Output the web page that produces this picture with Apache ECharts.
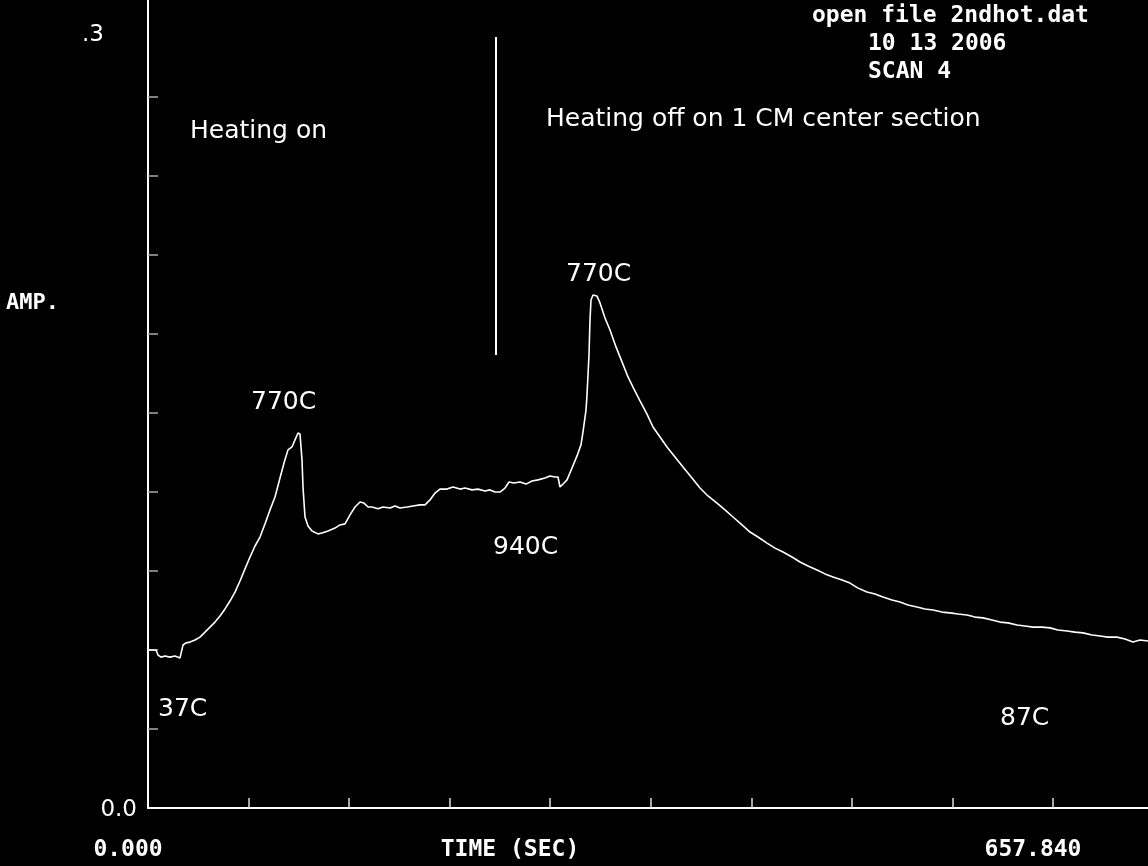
<!DOCTYPE html>
<html>
<head>
<meta charset="utf-8">
<style>
html,body{margin:0;padding:0;background:#000;}
#chart{width:1148px;height:866px;}
</style>
<script src="https://cdn.jsdelivr.net/npm/echarts@6/dist/echarts.min.js"></script>
</head>
<body>
<div id="chart"></div>
<script>
// Time (s) of each reading
const timeSec = [0,5.82,7.27,9.45,12.36,15.99,19.63,23.26,24.71,25.44,27.62,30.53,34.16,37.80,41.43,45.07,48.70,52.34,55.97,59.60,63.24,66.87,70.51,74.14,77.78,81.41,85.05,88.68,92.32,95.95,98.86,101.76,104.67,106.85,109.03,110.49,111.94,112.67,114.12,116.30,119.21,123.57,126.48,130.84,135.93,139.57,143.20,146.84,150.47,154.11,157.01,159.92,162.83,167.19,170.82,175.91,179.54,183.18,188.27,192.63,197.71,201.35,204.98,208.62,212.25,217.34,221.70,226.79,230.42,235.51,239.87,244.96,248.60,252.23,255.87,259.50,262.41,266.04,270.40,274.77,279.13,283.49,288.58,292.21,295.84,298.02,299.48,302.39,304.57,308.20,311.84,314.74,316.20,318.38,319.10,320.56,321.29,322.01,323.47,326.37,328.56,332.19,335.82,340.19,344.55,348.91,353.27,357.63,362.72,367.08,372.17,377.26,383.07,388.89,395.43,401.25,407.06,413.60,419.42,425.23,431.78,437.59,443.40,449.95,455.76,461.58,468.12,473.94,479.75,486.29,492.11,497.93,504.46,510.28,516.09,522.63,528.45,534.26,540.81,546.62,552.44,558.98,564.79,570.61,577.15,582.97,588.78,595.32,601.14,606.95,613.49,619.31,625.13,631.67,637.48,643.30,649.84,655.66,661.47,668.01,673.83,679.64,686.18,692.00,697.81,704.36,710.17,715.99,721.07,726.89];
// Amplitude of each reading
const amplitude = [0.0600,0.0600,0.0581,0.0573,0.0577,0.0573,0.0577,0.0570,0.0573,0.0619,0.0627,0.0630,0.0638,0.0649,0.0668,0.0687,0.0706,0.0729,0.0756,0.0786,0.0820,0.0862,0.0908,0.0953,0.0995,0.1029,0.1079,0.1132,0.1181,0.1253,0.1310,0.1360,0.1371,0.1398,0.1424,0.1420,0.1322,0.1219,0.1105,0.1071,0.1052,0.1041,0.1044,0.1052,0.1063,0.1075,0.1079,0.1113,0.1143,0.1162,0.1158,0.1143,0.1143,0.1136,0.1143,0.1139,0.1147,0.1139,0.1143,0.1147,0.1151,0.1151,0.1170,0.1196,0.1211,0.1211,0.1219,0.1211,0.1215,0.1208,0.1211,0.1204,0.1208,0.1200,0.1200,0.1215,0.1238,0.1234,0.1238,0.1230,0.1242,0.1246,0.1253,0.1261,0.1257,0.1257,0.1219,0.1234,0.1246,0.1291,0.1337,0.1379,0.1428,0.1511,0.1568,0.1720,0.1853,0.1929,0.1948,0.1944,0.1918,0.1861,0.1815,0.1751,0.1694,0.1637,0.1591,0.1546,0.1496,0.1447,0.1409,0.1371,0.1333,0.1295,0.1253,0.1215,0.1185,0.1158,0.1132,0.1105,0.1075,0.1048,0.1029,0.1006,0.0987,0.0972,0.0953,0.0934,0.0919,0.0904,0.0889,0.0877,0.0866,0.0854,0.0835,0.0820,0.0813,0.0801,0.0790,0.0782,0.0771,0.0763,0.0756,0.0752,0.0744,0.0741,0.0737,0.0733,0.0725,0.0722,0.0714,0.0706,0.0703,0.0695,0.0691,0.0687,0.0687,0.0684,0.0676,0.0672,0.0668,0.0665,0.0657,0.0653,0.0649,0.0649,0.0642,0.0630,0.0638,0.0634];
// Axis tick values and labels
const xTickValues = [73.093,146.187,219.280,292.373,365.467,438.560,511.653,584.747,657.840];
const xLabelValues = [0, 657.84];
const xLabelTexts = ['0.000', '657.840'];
const yTickValues = [0.03,0.06,0.09,0.12,0.15,0.18,0.21,0.24,0.27];
const yLabelValues = [0, 0.3];
const yLabelTexts = ['0.0', '.3'];
const xAxisTitle = 'TIME (SEC)';
const yAxisTitle = 'AMP.';
// Heating-off marker
const heatOffTime = 253.0;
const heatOffMarkRange = [0.1720, 0.2928];
// Annotations
const annotations = [
  {text: 'Heating on', x: 190, y: 131},
  {text: 'Heating off on 1 CM center section', x: 546, y: 119},
  {text: '770C', x: 251, y: 402},
  {text: '770C', x: 566, y: 274},
  {text: '940C', x: 493, y: 547},
  {text: '37C', x: 158, y: 709},
  {text: '87C', x: 1000, y: 718}
];
const headerLines = [
  {text: 'open file 2ndhot.dat', x: 812, y: 16},
  {text: '10 13 2006', x: 868, y: 44},
  {text: 'SCAN 4', x: 868, y: 72}
];

const seriesData = timeSec.map((t, i) => [t, amplitude[i]]);
const MONO = 'DejaVu Sans Mono';
const SANS = 'DejaVu Sans';

const chart = echarts.init(document.getElementById('chart'));
const graphics = [];
annotations.forEach(a => graphics.push({
  type: 'text', x: a.x, y: a.y, silent: true,
  style: {text: a.text, fill: '#fff', font: '25px "' + SANS + '"', verticalAlign: 'middle', align: 'left'}
}));
headerLines.forEach(a => graphics.push({
  type: 'text', x: a.x, y: a.y, silent: true,
  style: {text: a.text, fill: '#fff', font: 'bold 23px "' + MONO + '"', verticalAlign: 'middle', align: 'left'}
}));
graphics.push({
  type: 'text', x: 6, y: 303, silent: true,
  style: {text: yAxisTitle, fill: '#fff', font: 'bold 22px "' + MONO + '"', verticalAlign: 'middle', align: 'left'}
});

chart.setOption({
  backgroundColor: '#000',
  animation: false,
  grid: {left: 148, right: 0, top: 0, bottom: 58, containLabel: false, outerBoundsMode: 'none'},
  xAxis: {
    type: 'value', min: 0, max: 726.89,
    name: xAxisTitle, nameLocation: 'middle', nameGap: 31, nameMoveOverlap: false,
    nameTextStyle: {color: '#fff', fontFamily: MONO, fontWeight: 'bold', fontSize: 23, padding: [0, 276, 0, 0]},
    axisLine: {show: true, onZero: false, lineStyle: {color: '#fff', width: 2}},
    axisTick: {show: true, inside: true, length: 10, customValues: xTickValues, lineStyle: {color: '#ddd', width: 1.5}},
    axisLabel: {
      show: true, margin: 31, customValues: xLabelValues,
      formatter: v => '{a|' + (v < 1 ? xLabelTexts[0] : xLabelTexts[1]) + '}',
      rich: {a: {color: '#fff', fontFamily: MONO, fontWeight: 'bold', fontSize: 23, padding: [0, 40, 0, 0]}}
    },
    splitLine: {show: false}
  },
  yAxis: {
    type: 'value', min: 0, max: 0.30684,
    axisLine: {show: true, onZero: false, lineStyle: {color: '#fff', width: 2}},
    axisTick: {show: true, inside: true, length: 10, customValues: yTickValues, lineStyle: {color: '#aaa', width: 1.5}},
    axisLabel: {
      show: true, margin: 11, customValues: yLabelValues,
      formatter: v => v < 0.1 ? '{z|' + yLabelTexts[0] + '}' : '{t|' + yLabelTexts[1] + '}',
      rich: {
        z: {color: '#fff', fontFamily: SANS, fontSize: 23, padding: [4, 0, 0, 0]},
        t: {color: '#fff', fontFamily: SANS, fontSize: 23, padding: [34, 33, 0, 0]}
      }
    },
    splitLine: {show: false}
  },
  series: [{
    type: 'line',
    data: seriesData,
    showSymbol: false,
    lineStyle: {color: '#fff', width: 1.6},
    itemStyle: {color: '#fff'},
    clip: true,
    markLine: {
      silent: true, symbol: 'none', label: {show: false},
      lineStyle: {color: '#fff', width: 2, type: 'solid'},
      data: [[{coord: [heatOffTime, heatOffMarkRange[0]]}, {coord: [heatOffTime, heatOffMarkRange[1]]}]]
    }
  }],
  graphic: graphics
});
</script>
</body>
</html>
